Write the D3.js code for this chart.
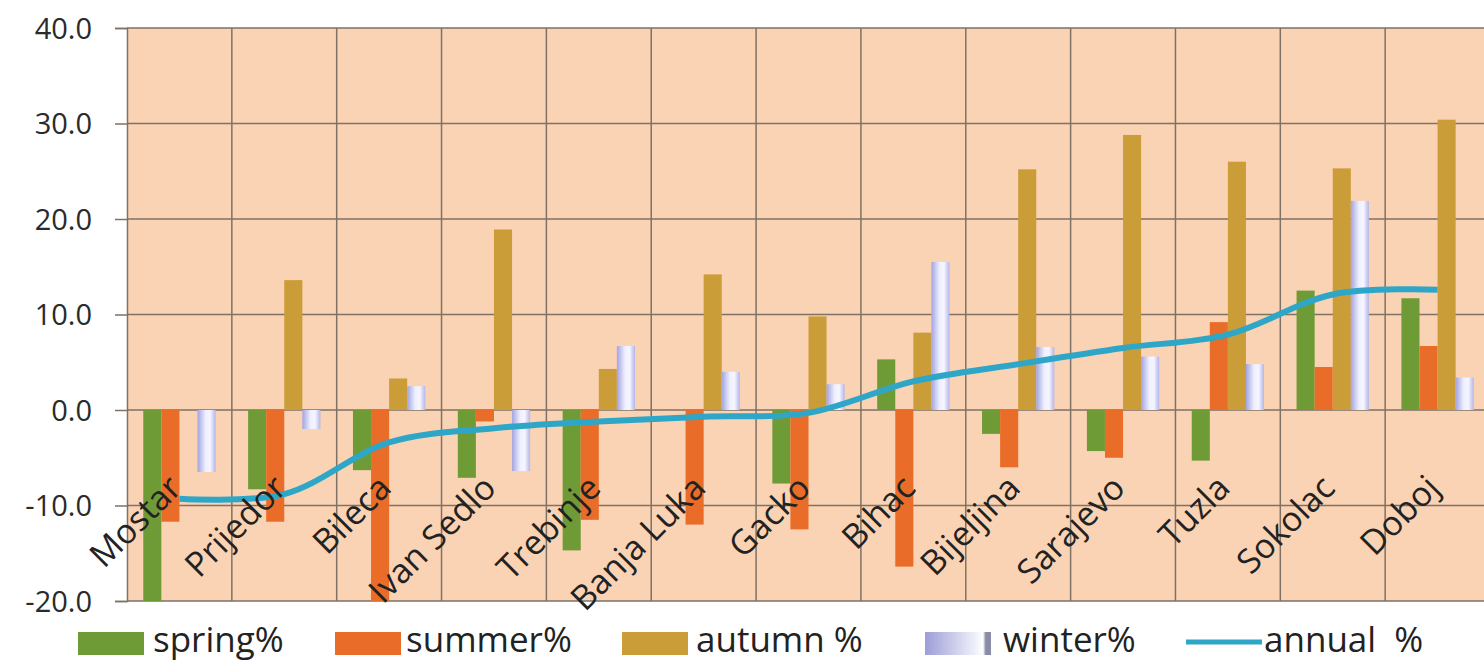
<!DOCTYPE html>
<html>
<head>
<meta charset="utf-8">
<script src="https://cdn.jsdelivr.net/npm/d3@7"></script>
<style>
  html, body { margin: 0; padding: 0; background: #ffffff; overflow: hidden; }
  svg { display: block; font-family: "Open Sans", "Noto Sans", sans-serif; }
</style>
</head>
<body>
<svg id="chart" width="1484" height="663"></svg>
<script>
// Seasonal and annual precipitation change (%) by station
const stations = ["Mostar", "Prijedor", "Bileca", "Ivan Sedlo", "Trebinje", "Banja Luka",
                  "Gacko", "Bihac", "Bijeljina", "Sarajevo", "Tuzla", "Sokolac", "Doboj"];
const spring = [-20.0, -8.3, -6.3, -7.1, -14.7, 0.0, -7.7, 5.3, -2.5, -4.3, -5.3, 12.5, 11.7];
const summer = [-11.7, -11.7, -20.0, -1.2, -11.5, -12.0, -12.5, -16.4, -6.0, -5.0, 9.2, 4.5, 6.7];
const autumn = [0.0, 13.6, 3.3, 18.9, 4.3, 14.2, 9.8, 8.1, 25.2, 28.8, 26.0, 25.3, 30.4];
const winter = [-6.5, -2.0, 2.5, -6.4, 6.7, 4.0, 2.7, 15.5, 6.6, 5.6, 4.8, 21.9, 3.4];
const annual = [-9.3, -8.8, -3.4, -1.9, -1.2, -0.7, -0.3, 3.0, 4.8, 6.5, 7.9, 12.1, 12.6];

const seriesNames = ["spring%", "summer%", "autumn %", "winter%"];
const lineName = "annual  %";
const yTicks = [-20, -10, 0, 10, 20, 30, 40];
const yTickLabels = ["-20.0", "-10.0", "0.0", "10.0", "20.0", "30.0", "40.0"];

const barSeries = [spring, summer, autumn, winter];
const colors = ["#6e9b35", "#e96d28", "#cb9d39", "url(#winterGrad)"];

const svg = d3.select("#chart");
const plot = { left: 127, right: 1490, top: 28, bottom: 601 };

const x = d3.scaleBand().domain(stations).range([plot.left, plot.right]).padding(0);
const xs = d3.scaleBand().domain(d3.range(4)).range([0, x.bandwidth()])
  .paddingInner(0).paddingOuter(0.9);
const y = d3.scaleLinear().domain([-20, 40]).range([plot.bottom, plot.top]);

// gradients
const defs = svg.append("defs");
const wg = defs.append("linearGradient").attr("id", "winterGrad")
  .attr("x1", "0%").attr("x2", "100%").attr("y1", "0%").attr("y2", "0%");
[["0%", "#a2a4e0"], ["45%", "#eef0ff"], ["70%", "#f6f6ff"], ["100%", "#b3b5ea"]]
  .forEach(([o, c]) => wg.append("stop").attr("offset", o).attr("stop-color", c));
const lg = defs.append("linearGradient").attr("id", "winterLegend")
  .attr("x1", "0%").attr("x2", "100%");
[["0%", "#9c9ed6"], ["80%", "#f4f4fc"], ["88%", "#ffffff"], ["92%", "#8a8ba6"], ["100%", "#8a8ba6"]]
  .forEach(([o, c]) => lg.append("stop").attr("offset", o).attr("stop-color", c));
defs.append("clipPath").attr("id", "plotClip").append("rect")
  .attr("x", plot.left).attr("y", plot.top)
  .attr("width", plot.right - plot.left).attr("height", plot.bottom - plot.top);

// plot background
svg.append("rect")
  .attr("x", plot.left).attr("y", plot.top)
  .attr("width", plot.right - plot.left).attr("height", plot.bottom - plot.top)
  .attr("fill", "#fad3b4");

const gridColor = "#7f7164";

// horizontal gridlines + y axis
const yAxis = d3.axisLeft(y).tickValues(yTicks).tickSize(12)
  .tickFormat((d, i) => yTickLabels[i]);
const yg = svg.append("g").attr("transform", `translate(${plot.left},0)`).call(yAxis);
yg.select(".domain").attr("stroke", gridColor).attr("stroke-width", 1.5);
yg.selectAll(".tick line").attr("stroke", gridColor).attr("stroke-width", 1.5);
yg.selectAll(".tick text")
  .attr("x", -35).attr("dy", "0.35em")
  .attr("fill", "#2a2a2a").style("font-size", "29px").style("font-family", "'Open Sans', sans-serif");

svg.append("g").selectAll("line").data(yTicks).join("line")
  .attr("x1", plot.left).attr("x2", plot.right)
  .attr("y1", d => y(d)).attr("y2", d => y(d))
  .attr("stroke", gridColor).attr("stroke-width", 1.5);

// vertical gridlines at category boundaries
svg.append("g").selectAll("line").data(stations.slice(1)).join("line")
  .attr("x1", d => x(d)).attr("x2", d => x(d))
  .attr("y1", plot.top).attr("y2", plot.bottom)
  .attr("stroke", gridColor).attr("stroke-width", 1.5);

// bars
const barsG = svg.append("g").attr("clip-path", "url(#plotClip)");
barSeries.forEach((vals, si) => {
  barsG.append("g").selectAll("rect").data(vals).join("rect")
    .attr("x", (d, i) => x(stations[i]) + xs(si))
    .attr("width", xs.bandwidth())
    .attr("y", d => y(Math.max(0, d)))
    .attr("height", d => Math.abs(y(d) - y(0)))
    .attr("fill", colors[si]);
});

// annual line
const line = d3.line()
  .x((d, i) => x(stations[i]) + x.bandwidth() / 2)
  .y(d => y(d))
  .curve(d3.curveCatmullRom.alpha(0.5));
svg.append("path").datum(annual)
  .attr("d", line)
  .attr("fill", "none")
  .attr("stroke", "#2ea6c8")
  .attr("stroke-width", 6)
  .attr("stroke-linejoin", "round");

// category labels, rotated, sitting below the zero line
svg.append("g").selectAll("text").data(stations).join("text")
  .attr("transform", d => `translate(${x(d) + x.bandwidth() / 2 + 4},${y(0) + 80}) rotate(-45)`)
  .attr("text-anchor", "end")
  .attr("fill", "#222222")
  .style("font-size", "34px")
  .text(d => d);

// legend
const legend = svg.append("g");
const swX = [78, 335, 622, 925];
const txX = [153, 406, 696, 1003];
seriesNames.forEach((name, i) => {
  legend.append("rect").attr("x", swX[i]).attr("y", 632).attr("width", 66).attr("height", 23)
    .attr("fill", i === 3 ? "url(#winterLegend)" : colors[i]);
  legend.append("text").attr("x", txX[i]).attr("y", 652)
    .attr("fill", "#222222").style("font-size", "35px").text(name);
});
legend.append("line").attr("x1", 1186).attr("x2", 1262).attr("y1", 642).attr("y2", 642)
  .attr("stroke", "#2ea6c8").attr("stroke-width", 5);
legend.append("text").attr("x", 1264).attr("y", 652)
  .attr("fill", "#222222").style("font-size", "35px").style("white-space", "pre")
  .attr("xml:space", "preserve").text(lineName);
</script>
</body>
</html>
